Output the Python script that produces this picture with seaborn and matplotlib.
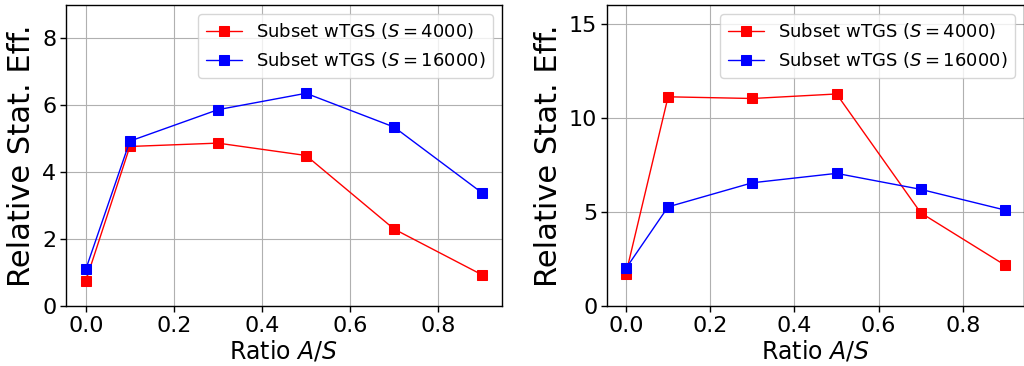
import numpy as np
import pandas as pd
import seaborn as sns
import matplotlib.pyplot as plt

# Style
sns.set_style("whitegrid", {"axes.edgecolor": "black", "grid.color": "#b0b0b0",
                            "xtick.bottom": True, "ytick.left": True,
                            "text.color": "black", "axes.labelcolor": "black",
                            "xtick.color": "black", "ytick.color": "black"})
plt.rcParams['font.family'] = ['DejaVu Sans']
plt.rcParams['mathtext.fontset'] = 'dejavusans'

# Data
ratio = [0.0, 0.1, 0.3, 0.5, 0.7, 0.9]
left_s4000 = [0.75, 4.77, 4.87, 4.50, 2.30, 0.93]
left_s16000 = [1.10, 4.93, 5.87, 6.36, 5.35, 3.38]
right_s4000 = [1.72, 11.12, 11.03, 11.27, 4.95, 2.17]
right_s16000 = [2.00, 5.27, 6.55, 7.05, 6.20, 5.10]
labels = [r"Subset wTGS ($S = 4000$)", r"Subset wTGS ($S = 16000$)"]
colors = ["red", "blue"]

fig = plt.figure(figsize=(10.24, 3.66), dpi=100)
ax1 = fig.add_axes([66/1024, 60/366, 436/1024, 301/366])
ax2 = fig.add_axes([607/1024, 60/366, 417/1024, 301/366])

panels = [(ax1, left_s4000, left_s16000, (0, 9), [0, 2, 4, 6, 8]),
          (ax2, right_s4000, right_s16000, (0, 16), [0, 5, 10, 15])]

for ax, s4, s16, ylim, yticks in panels:
    for vals, lab, c in zip([s4, s16], labels, colors):
        df = pd.DataFrame({"ratio": ratio, "eff": vals})
        sns.lineplot(data=df, x="ratio", y="eff", ax=ax, color=c, label=lab,
                     marker="s", markersize=7, markeredgecolor=c,
                     linewidth=1)
    ax.set_ylim(*ylim)
    ax.set_yticks(yticks)
    ax.set_xticks([0.0, 0.2, 0.4, 0.6, 0.8])
    ax.set_xlabel(r"Ratio $A/S$", fontsize=17, labelpad=2)
    ax.set_ylabel("Relative Stat. Eff.", fontsize=22, labelpad=4)
    ax.tick_params(labelsize=16, length=4, width=1, color="black", pad=3)
    ax.grid(True, color="#b0b0b0", linewidth=0.8)
    for sp in ax.spines.values():
        sp.set_linewidth(1)
    ax.legend(loc="upper right", fontsize=13, framealpha=0.8,
              handlelength=2.0)

fig.savefig("out.png", dpi=100)
